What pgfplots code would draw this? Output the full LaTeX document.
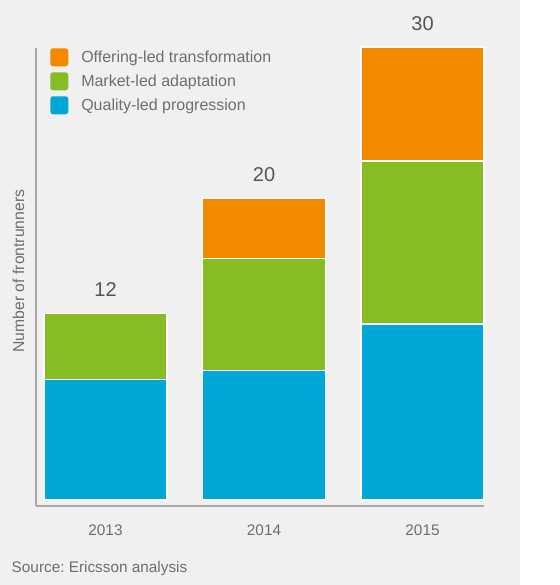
\documentclass[border=0pt]{standalone}
\usepackage{pgfplots}
\pgfplotsset{compat=1.18}
\usepackage{fontspec}
\setmainfont{Liberation Sans}
\frenchspacing
\definecolor{bggray}{HTML}{F0F0F0}
\definecolor{axgray}{HTML}{A9A9A9}
\definecolor{txtgray}{HTML}{6E6E6E}
\definecolor{valgray}{HTML}{555555}
\definecolor{eorange}{HTML}{F28A00}
\definecolor{egreen}{HTML}{88BC25}
\definecolor{eblue}{HTML}{00A8D8}
\pgfplotsset{
  swatch/.style={legend image code/.code={\path[##1,draw=none,rounded corners=2pt] (0pt,-6.75pt) rectangle (13.5pt,6.75pt);}},
  samegeom/.style={at={(27pt,59.25pt)}, anchor=south west,
    scale only axis, width=336pt, height=343.5pt,
    xmin=-0.4385, xmax=2.388, ymin=-0.397, ymax=29.93, clip=false},
}
\begin{document}
\begin{tikzpicture}[x=1pt,y=1pt]
\useasboundingbox (0,0) rectangle (420,438.75);
\fill[bggray] (0,0) rectangle (390,438.75);
\begin{axis}[
  samegeom,
  ybar stacked, bar width=92.25pt,
  axis x line*=bottom, axis y line*=left,
  x axis line style={draw=axgray, line width=1.6pt, -},
  y axis line style={draw=axgray, line width=1.1pt, -},
  xtick={0,1,2}, xticklabels={2013,2014,2015},
  ytick=\empty, major tick length=0pt,
  xticklabel style={font=\fontsize{11.5}{13}\selectfont, text=txtgray, anchor=base, yshift=-22.5pt},
  ylabel={Number of frontrunners},
  every axis y label/.style={at={(axis description cs:-0.039,0.513)}, rotate=90, anchor=center, font=\fontsize{11.8}{13}\selectfont, text=txtgray},
  legend style={at={(axis description cs:0,1)}, anchor=north west, xshift=10.5pt,
    draw=none, fill=none, inner sep=0pt, row sep=4.5pt, column sep=9.75pt,
    nodes={inner sep=0pt, text=txtgray, font=\fontsize{12}{14}\selectfont}},
  legend cell align=left,
  reverse legend,
]
\addplot[fill=eblue, draw=white, line width=0.9pt, swatch] coordinates {(0,8.0) (1,8.6) (2,11.65)};
\addlegendentry{Quality-led progression}
\addplot[fill=egreen, draw=white, line width=0.9pt, swatch] coordinates {(0,4.36) (1,7.4) (2,10.8)};
\addlegendentry{Market-led adaptation}
\addplot[fill=eorange, draw=white, line width=0.9pt, swatch] coordinates {(0,0) (1,4.0) (2,7.55)};
\addlegendentry{Offering-led transformation}
\end{axis}
\begin{axis}[samegeom, hide axis]
\addplot[only marks, mark=none, nodes near coords, point meta=explicit symbolic,
  every node near coord/.style={font=\fontsize{15}{17}\selectfont, text=valgray, anchor=base, yshift=12.4pt, inner sep=0pt}]
  coordinates {(0,12.36) [12] (1,20) [20] (2,30) [30]};
\end{axis}
\node[anchor=base west, inner sep=0pt, text=txtgray, font=\fontsize{11.5}{13}\selectfont] at (8.6,9.2) {Source: Ericsson analysis};
\end{tikzpicture}
\end{document}
